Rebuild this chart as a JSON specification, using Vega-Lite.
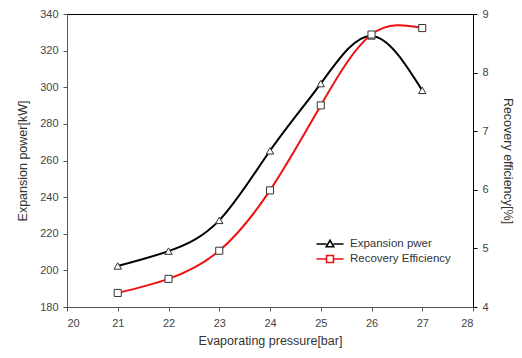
{
  "$schema": "https://vega.github.io/schema/vega-lite/v6.json",
  "width": 406,
  "height": 293,
  "autosize": "none",
  "padding": {"left": 67, "top": 14, "right": 49, "bottom": 51},
  "background": "white",
  "config": {
    "font": "Liberation Sans",
    "view": {"stroke": "#000", "strokeWidth": 1},
    "axis": {
      "labelFont": "Liberation Sans",
      "titleFont": "Liberation Sans",
      "labelColor": "#444",
      "titleColor": "#333",
      "labelFontSize": 11,
      "titleFontSize": 12.5,
      "titleFontWeight": "normal",
      "grid": false,
      "tickColor": "#555",
      "domainColor": "#555",
      "tickSize": 4,
      "labelPadding": 5
    }
  },
  "data": {
    "values": [
      {"p": 21, "series": "Expansion pwer", "v": 202.4},
      {"p": 22, "series": "Expansion pwer", "v": 210.5},
      {"p": 23, "series": "Expansion pwer", "v": 227.3},
      {"p": 24, "series": "Expansion pwer", "v": 265.3},
      {"p": 25, "series": "Expansion pwer", "v": 302},
      {"p": 26, "series": "Expansion pwer", "v": 328},
      {"p": 27, "series": "Expansion pwer", "v": 298.3},
      {"p": 21, "series": "Recovery Efficiency", "v": 4.24},
      {"p": 22, "series": "Recovery Efficiency", "v": 4.48},
      {"p": 23, "series": "Recovery Efficiency", "v": 4.96},
      {"p": 24, "series": "Recovery Efficiency", "v": 5.99},
      {"p": 25, "series": "Recovery Efficiency", "v": 7.44},
      {"p": 26, "series": "Recovery Efficiency", "v": 8.65},
      {"p": 27, "series": "Recovery Efficiency", "v": 8.76}
    ]
  },
  "encoding": {
    "x": {
      "field": "p",
      "type": "quantitative",
      "scale": {"domain": [20, 28], "nice": false},
      "axis": {
        "title": "Evaporating pressure[bar]",
        "values": [20, 21, 22, 23, 24, 25, 26, 27, 28],
        "labelPadding": 6,
        "titlePadding": 6
      }
    }
  },
  "layer": [
    {
      "transform": [{"filter": "datum.series === 'Expansion pwer'"}],
      "encoding": {
        "y": {
          "field": "v",
          "type": "quantitative",
          "scale": {"domain": [180, 340], "nice": false, "zero": false},
          "axis": {
            "orient": "left",
            "title": "Expansion power[kW]",
            "values": [180, 200, 220, 240, 260, 280, 300, 320, 340],
            "titlePadding": 10
          }
        }
      },
      "layer": [
        {
          "mark": {"type": "line", "interpolate": "natural", "strokeWidth": 2},
          "encoding": {
            "color": {
              "field": "series",
              "type": "nominal",
              "scale": {"domain": ["Expansion pwer", "Recovery Efficiency"], "range": ["#000000", "#ee1111"]},
              "legend": {
                "orient": "none",
                "legendX": 257,
                "legendY": 224,
                "title": null,
                "padding": 0,
                "symbolSize": 100,
                "labelOffset": 14,
                "labelFontSize": 11.5,
                "labelColor": "#333",
                "labelFont": "Liberation Sans",
                "rowPadding": 2,
                "symbolStrokeWidth": 1.6,
                "encode": {
                  "symbols": {
                    "update": {
                      "shape": {"signal": "datum.value === 'Expansion pwer' ? 'M-2.7,0L-0.7,0M0.7,0L2.7,0M0,-0.75L0.75,0.55L-0.75,0.55Z' : 'M-2.7,0L-0.7,0M0.7,0L2.7,0M-0.7,-0.7L0.7,-0.7L0.7,0.7L-0.7,0.7Z'"},
                      "fill": {"value": "white"}
                    }
                  }
                }
              }
            }
          }
        },
        {
          "mark": {"type": "point", "shape": "triangle-up", "filled": true, "fill": "white", "stroke": "#333", "strokeWidth": 1, "size": 55, "opacity": 1}
        }
      ]
    },
    {
      "transform": [{"filter": "datum.series === 'Recovery Efficiency'"}],
      "encoding": {
        "y": {
          "field": "v",
          "type": "quantitative",
          "scale": {"domain": [4, 9], "nice": false, "zero": false},
          "axis": {
            "orient": "right",
            "title": "Recovery efficiency[%]",
            "values": [4, 5, 6, 7, 8, 9],
            "titlePadding": 12,
            "domainColor": "#000",
            "tickColor": "#000"
          }
        }
      },
      "layer": [
        {
          "mark": {"type": "line", "interpolate": "natural", "strokeWidth": 2},
          "encoding": {
            "color": {
              "field": "series",
              "type": "nominal",
              "scale": {"domain": ["Expansion pwer", "Recovery Efficiency"], "range": ["#000000", "#ee1111"]}
            }
          }
        },
        {
          "mark": {"type": "point", "shape": "square", "filled": true, "fill": "white", "stroke": "#333", "strokeWidth": 1, "size": 50, "opacity": 1}
        }
      ]
    }
  ],
  "resolve": {"scale": {"y": "independent"}}
}
